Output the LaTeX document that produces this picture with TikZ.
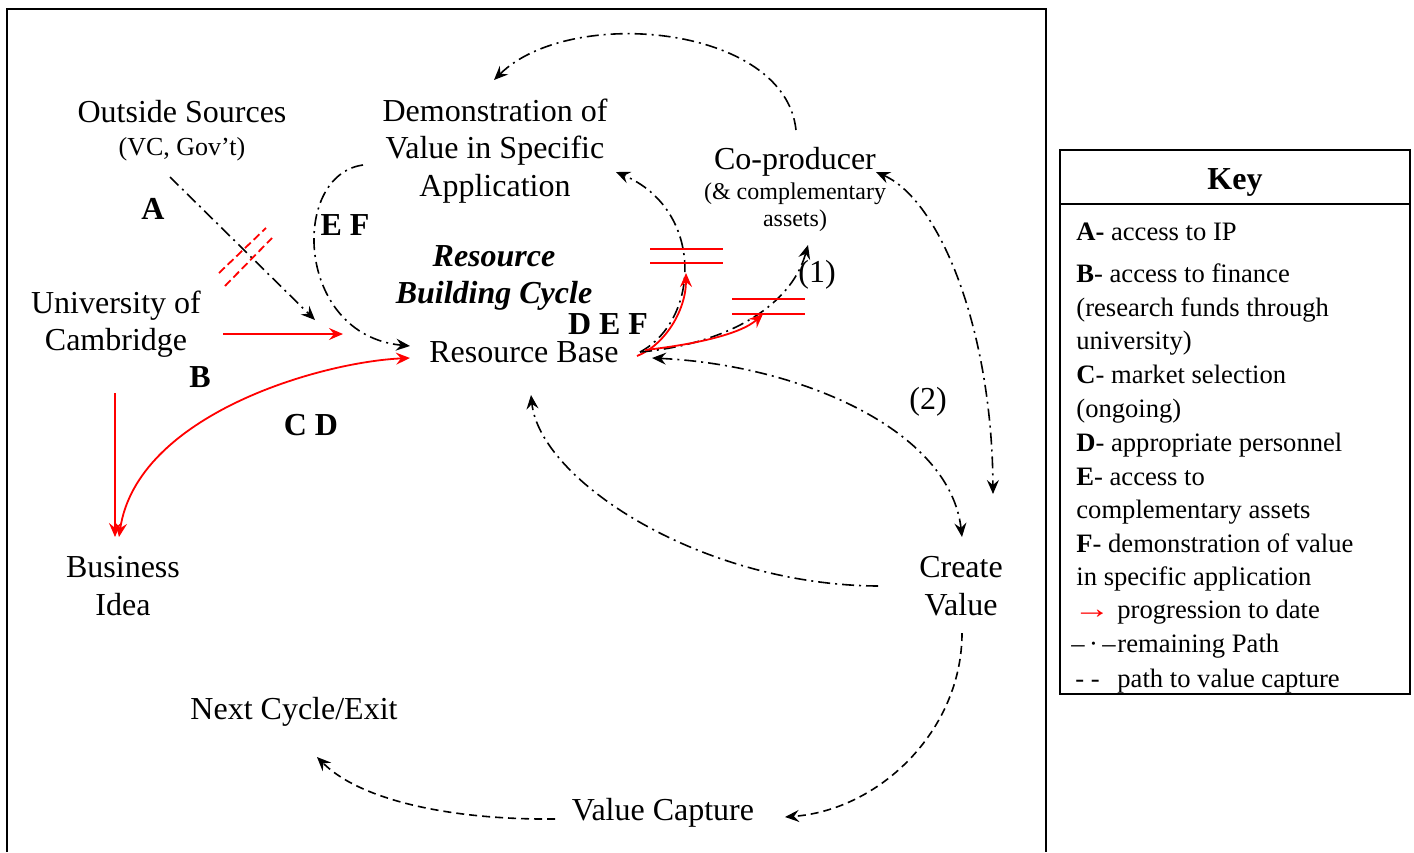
\documentclass[tikz,border=0pt]{standalone}
\usepackage{fontspec}
\setmainfont{Liberation Serif}
\usetikzlibrary{arrows.meta}
\begin{document}
\begin{tikzpicture}[x=0.5pt,y=-0.5pt,
  lbl/.style={font=\fontsize{16}{18.75}\selectfont, align=center, inner sep=0pt},
  bl/.style={font=\fontsize{16}{19}\selectfont\bfseries, inner sep=0pt},
  num/.style={font=\fontsize{16}{19}\selectfont, inner sep=0pt},
  keyf/.style={font=\fontsize{13.3}{17}\selectfont, anchor=base west, inner sep=0pt},
  dd/.style={line width=0.8pt, dash pattern=on 6pt off 2.5pt on 1pt off 2.5pt},
  dsh/.style={line width=0.8pt, dash pattern=on 4pt off 2.5pt},
  rd/.style={red, line width=0.9pt},
  tip/.style={arrows={-Stealth[length=7pt,width=6pt,inset=2.5pt]}},
  tips/.style={arrows={Stealth[length=7pt,width=6pt,inset=2.5pt]-Stealth[length=7pt,width=6pt,inset=2.5pt]}}
]
\useasboundingbox (0,0) rectangle (1414,852);
% frame
\draw[line width=1pt] (7,852) -- (7,9) -- (1046,9) -- (1046,852);
% key box
\draw[line width=1pt] (1060,150) rectangle (1410,694);
\draw[line width=1pt] (1060,204) -- (1410,204);

% nodes
\node[lbl] (outside) at (182,112) {Outside Sources};
\node[font=\fontsize{13}{15}\selectfont, inner sep=0pt] (outsub) at (182,149) {(VC, Gov’t)};
\node[lbl] (demo) at (495,151) {Demonstration of\\Value in Specific\\Application};
\node[lbl] (coprod) at (795,162) {Co-producer};
\node[font=\fontsize{12}{13.5}\selectfont, align=center, inner sep=0pt] (coprodsub) at (795,207) {(\& complementary\\assets)};
\node[font=\fontsize{16}{18.5}\selectfont\bfseries\itshape, align=center, inner sep=0pt] (rbc) at (494,278) {Resource\\Building Cycle};
\node[lbl] (univ) at (116,324) {University of\\Cambridge};
\node[lbl] (rbase) at (524,352) {Resource Base};
\node[lbl] (idea) at (123,586) {Business\\Idea};
\node[lbl] (create) at (961,586) {Create\\Value};
\node[lbl] (next) at (294,712) {Next Cycle/Exit};
\node[lbl] (capture) at (663,813) {Value Capture};

% letter labels
\node[bl] (la) at (153,209) {A};
\node[bl] (lb) at (200,377) {B};
\node[bl] (lcd) at (311,425) {C D};
\node[bl] (lef) at (345,225) {E F};
\node[bl] (ldef) at (608,324) {D E F};
\node[num] (l1) at (817,275) {(1)};
\node[num] (l2) at (928,402) {(2)};

% connector end points
\coordinate (aS) at (170,177);
\coordinate (aE) at (315,320);
\coordinate (bS) at (223,334);
\coordinate (bE) at (343,334);
\coordinate (efS) at (363,165);
\coordinate (efE) at (410,346);
\coordinate (rbL) at (410,358);
\coordinate (idT1) at (115,393);
\coordinate (idT) at (115,537);
\coordinate (idT2) at (119,537);
\coordinate (rbR) at (640,352);
\coordinate (rbR2) at (637,356);
\coordinate (rbR3) at (645,350);
\coordinate (rbR4) at (652,358);
\coordinate (demoR) at (616,172);
\coordinate (demoT) at (494,80);
\coordinate (redA) at (686,273);
\coordinate (redB) at (763,314);
\coordinate (cpB) at (808,245);
\coordinate (cpT) at (796,130);
\coordinate (cpR) at (876,172);
\coordinate (cvT1) at (993,494);
\coordinate (cvT2) at (962,537);
\coordinate (cvL) at (878,586);
\coordinate (rbB) at (531,395);
\coordinate (cvB) at (962,633);
\coordinate (vcR) at (785,817);
\coordinate (vcL) at (555,819);
\coordinate (ncB) at (317,757);

% A path (remaining)
\draw[dd,tip] (aS) -- (aE);
\draw[rd, dash pattern=on 4pt off 2pt] (219,273) -- (266,228);
\draw[rd, dash pattern=on 4pt off 2pt] (225,286) -- (272,238);
% B path (progression)
\draw[rd,tip] (bS) -- (bE);
% E F path
\draw[dd,tip] (efS) .. controls (290,175) and (295,335) .. (efE);
% C D : resource base <-> business idea
\draw[rd,tips] (rbL) .. controls (320,362) and (137,415) .. (idT2);
\draw[rd,tip] (idT1) -- (idT);
% resource base -> demonstration
\draw[dd,tip] (rbR) .. controls (700,320) and (705,210) .. (demoR);
\draw[rd,tip] (rbR2) .. controls (665,345) and (686,310) .. (redA);
\draw[rd] (650,249) -- (723,249);
\draw[rd] (650,263) -- (723,263);
% resource base -> co-producer (1)
\draw[dd,tip] (rbR) .. controls (720,345) and (790,310) .. (cpB);
\draw[rd,tip] (rbR3) .. controls (690,345) and (740,335) .. (redB);
\draw[rd] (732,299) -- (805,299);
\draw[rd] (732,314) -- (805,314);
% co-producer -> demonstration (top arc)
\draw[dd,tip] (cpT) .. controls (785,25) and (570,5) .. (demoT);
% co-producer <-> create value
\draw[dd,tips] (cpR) .. controls (940,200) and (992,330) .. (cvT1);
% resource base <-> create value (2)
\draw[dd,tips] (rbR4) .. controls (800,365) and (950,430) .. (cvT2);
% create value -> resource base (bottom)
\draw[dd,tip] (cvL) .. controls (700,585) and (540,480) .. (rbB);
% value capture path
\draw[dsh,tip] (cvB) .. controls (962,730) and (880,810) .. (vcR);
\draw[dsh,tip] (vcL) .. controls (450,820) and (360,800) .. (ncB);

% key
\node[font=\fontsize{16}{19}\selectfont\bfseries, inner sep=0pt] (keyt) at (1235,182) {Key};
\node[keyf] (k1) at (1076,240) {\textbf{A-} access to IP};
\node[keyf] (k2) at (1076,282) {\textbf{B}- access to finance};
\node[keyf] (k3) at (1076,316) {(research funds through};
\node[keyf] (k4) at (1076,349) {university)};
\node[keyf] (k5) at (1076,383) {\textbf{C}- market selection};
\node[keyf] (k6) at (1076,417) {(ongoing)};
\node[keyf] (k7) at (1076,451) {\textbf{D}- appropriate personnel};
\node[keyf] (k8) at (1076,485) {\textbf{E}- access to};
\node[keyf] (k9) at (1076,518) {complementary assets};
\node[keyf] (k10) at (1076,552) {\textbf{F}- demonstration of value};
\node[keyf] (k11) at (1076,585) {in specific application};
\node[keyf, text=red] (k12s) at (1073,618) {\scalebox{1.4}[1.1]{→}};
\node[keyf] (k12) at (1117,618) {progression to date};
\node[keyf] (k13s) at (1071,652) {–\,·\,–};
\node[keyf] (k13) at (1117,652) {remaining Path};
\node[keyf] (k14s) at (1075,687) {- -};
\node[keyf] (k14) at (1117,687) {path to value capture};
\end{tikzpicture}
\end{document}
